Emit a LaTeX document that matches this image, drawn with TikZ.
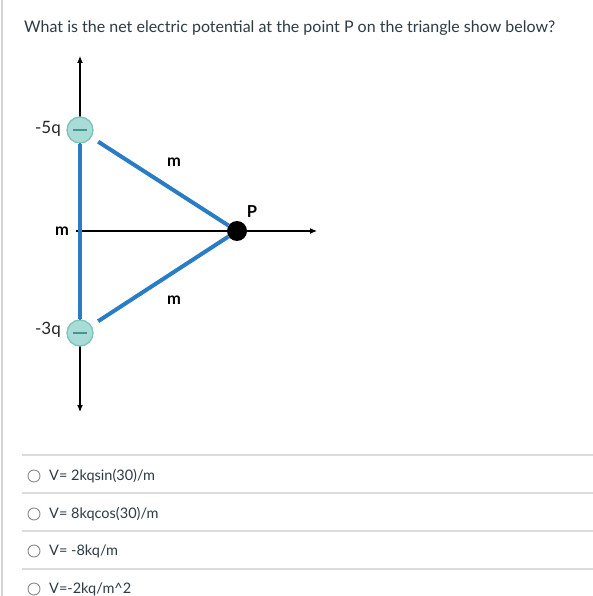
\documentclass[tikz,border=0pt]{standalone}
\usepackage{fontspec}
\setmainfont{Lato}
\usetikzlibrary{arrows.meta}
\definecolor{blueline}{HTML}{2A7DC4}
\definecolor{tealfill}{HTML}{A9DCD6}
\definecolor{tealedge}{HTML}{7CC4B8}
\definecolor{minuscol}{HTML}{3C9A90}
\definecolor{sepgrey}{HTML}{DCDCDC}
\definecolor{bordergrey}{HTML}{D4D4D4}
\definecolor{textgrey}{HTML}{2D3B45}
\definecolor{radiogrey}{HTML}{8A8A8A}
\begin{document}
\begin{tikzpicture}[x=1pt,y=-1pt,
  charge/.style={circle,draw=tealedge,fill=tealfill,line width=1.3pt,minimum size=26pt,inner sep=0pt},
  bondline/.style={draw=blueline,line width=4pt},
  axisline/.style={draw=black,line width=1.1pt,-{Latex[length=7pt,width=6pt]}},
  minusbar/.style={draw=minuscol,line width=2pt},
  chargelab/.style={font=\fontsize{17}{20}\selectfont,text=black!85,inner sep=0pt},
  boldlab/.style={font=\fontsize{16.5}{20}\selectfont\bfseries,inner sep=0pt},
  sepline/.style={draw=sepgrey,line width=1.3pt},
  radio/.style={circle,draw=radiogrey,line width=0.9pt,minimum size=12pt,inner sep=0pt},
  opttext/.style={font=\fontsize{14.5}{17}\selectfont,text=textgrey,anchor=west,inner sep=0pt}]
\useasboundingbox (0,0) rectangle (593,596);
\fill[white] (0,0) rectangle (593,596);
\draw[bordergrey,line width=1.2pt] (2,0) -- (2,596);
% title
\node[anchor=west,inner sep=0pt,text=textgrey,font=\fontsize{16}{19}\selectfont] (title) at (24,28)
  {What is the net electric potential at the point P on the triangle show below?};
% axes
\coordinate (origin) at (80,231);
\coordinate (top) at (80,56);
\coordinate (bot) at (80,412);
\coordinate (xend) at (317,231);
\coordinate (tickl) at (76,231);
\draw[axisline] (origin) -- (top);
\draw[axisline] (origin) -- (bot);
\draw[axisline] (tickl) -- (xend);
% charges and point
\node[charge] (c1) at (80,130) {};
\node[charge] (c2) at (80,333) {};
\node[circle,fill=black,minimum size=20pt,inner sep=0pt] (P) at (237,231) {};
% triangle sides
\draw[bondline] (c1) -- (c2);
\draw[bondline,shorten <=8pt] (c1) -- (P);
\draw[bondline,shorten <=8pt] (c2) -- (P);
% minus signs
\draw[minusbar] ([xshift=-7pt]c1.center) -- ([xshift=7pt]c1.center);
\draw[minusbar] ([xshift=-7pt]c2.center) -- ([xshift=7pt]c2.center);
% labels
\node[chargelab] (l1) at (48,129) {-5q};
\node[chargelab] (l2) at (48,330) {-3q};
\node[boldlab] (mleft) at (62,231) {m};
\node[boldlab] (mtop) at (174,162) {m};
\node[boldlab] (mbot) at (174,300) {m};
\node[boldlab] (plab) at (252,212) {P};
% options
\draw[sepline] (22,455) -- (593,455);
\draw[sepline] (22,493) -- (593,493);
\draw[sepline] (22,531) -- (593,531);
\draw[sepline] (22,569) -- (593,569);
\node[radio] (r1) at (34,476) {};
\node[radio] (r2) at (34,514) {};
\node[radio] (r3) at (34,551) {};
\node[radio] (r4) at (34,589) {};
\node[opttext] (o1) at (49,476) {V= 2kqsin(30)/m};
\node[opttext] (o2) at (49,514) {V= 8kqcos(30)/m};
\node[opttext] (o3) at (49,551) {V= -8kq/m};
\node[opttext] (o4) at (49,589) {V=-2kq/m\^{}2};
\end{tikzpicture}
\end{document}
